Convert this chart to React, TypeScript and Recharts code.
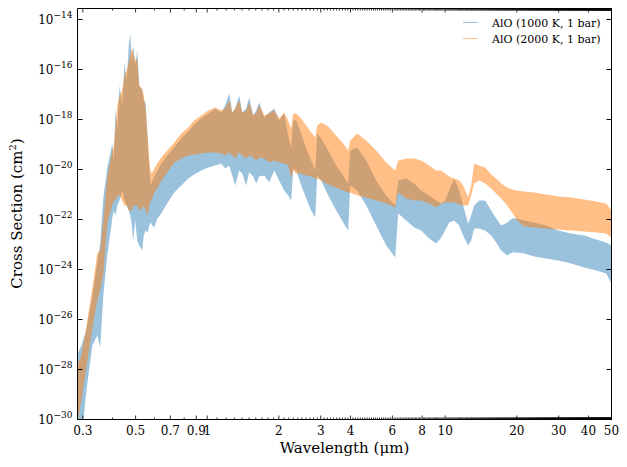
import { Area, ComposedChart, XAxis, YAxis } from "recharts";

const FONT = "'DejaVu Serif', serif";

// wavelength grid in µm
const wavelength = [
  0.286, 0.296, 0.31, 0.329, 0.345, 0.355, 0.366, 0.38, 0.399, 0.405,
  0.412, 0.419, 0.428, 0.439, 0.449, 0.459, 0.468, 0.475, 0.482, 0.489,
  0.498, 0.508, 0.518, 0.533, 0.541, 0.551, 0.562, 0.571, 0.579, 0.588,
  0.599, 0.617, 0.641, 0.679, 0.727, 0.778, 0.832, 0.882, 0.944, 1.01,
  1.08, 1.145, 1.19, 1.237, 1.274, 1.311, 1.363, 1.403, 1.458, 1.501,
  1.561, 1.607, 1.654, 1.736, 1.822, 1.912, 2.006, 2.106, 2.189, 2.254,
  2.298, 2.366, 2.483, 2.606, 2.735, 2.843, 2.899, 3.013, 3.225, 3.483,
  3.728, 3.912, 3.989, 4.268, 4.658, 5.13, 5.65, 6.166, 6.347, 6.857,
  7.407, 7.928, 8.565, 9.168, 9.621, 10.0, 10.39, 10.91, 11.45, 11.9,
  12.49, 12.86, 13.24, 13.9, 14.73, 15.61, 16.38, 17.19, 18.22, 19.12,
  20.07, 21.47, 23.66, 26.58, 29.85, 33.83, 38.37, 43.11, 47.49, 50.0,
];

// log10 of the cross section (cm^2): lower and upper envelope of each spectrum
const low1000 = [
  -30.84, -30.84, -28.92, -27.04, -26.64, -27.12, -25.04, -23.44, -21.96, -21.64,
  -21.84, -21.44, -21.24, -20.84, -21.24, -21.44, -21.64, -21.84, -22.24, -22.84,
  -22.04, -22.84, -23.04, -23.24, -22.64, -22.44, -22.52, -22.24, -22.12, -22.24,
  -22.32, -21.96, -21.76, -21.36, -20.92, -20.64, -20.36, -20.2, -20.04, -19.92,
  -19.84, -19.76, -19.96, -19.84, -20.24, -20.64, -20.04, -20.16, -20.64, -20.12,
  -20.28, -20.56, -20.28, -20.24, -20.52, -20.04, -20.44, -20.84, -21.04, -21.24,
  -19.96, -20.04, -20.64, -21.16, -21.64, -21.92, -20.24, -20.44, -21.04, -21.64,
  -22.12, -22.44, -20.64, -20.84, -21.44, -22.24, -23.04, -23.52, -21.76, -22.04,
  -22.32, -22.44, -22.76, -22.96, -22.72, -22.44, -22.12, -22.04, -22.24, -22.64,
  -23.04, -22.84, -22.36, -22.36, -22.44, -22.64, -22.92, -23.24, -23.44, -23.32,
  -23.32, -23.36, -23.48, -23.56, -23.64, -23.76, -23.92, -24.04, -24.16, -24.56,
];
const high1000 = [
  -27.36, -27.04, -26.44, -25.04, -23.72, -22.96, -21.12, -19.96, -18.96, -19.64,
  -17.56, -18.44, -16.64, -17.44, -15.76, -16.44, -15.04, -14.56, -15.64, -15.04,
  -15.84, -15.24, -16.64, -16.84, -17.24, -17.36, -18.84, -19.96, -20.64, -20.44,
  -20.28, -20.04, -19.76, -19.44, -19.12, -18.76, -18.48, -18.2, -17.96, -17.76,
  -17.56, -17.72, -17.44, -16.96, -17.72, -17.56, -17.04, -17.72, -17.56, -17.12,
  -17.84, -17.64, -17.32, -17.92, -17.72, -17.56, -18.04, -17.76, -18.64, -19.12,
  -18.04, -18.04, -18.56, -19.16, -19.64, -20.04, -18.56, -18.76, -19.24, -19.84,
  -20.24, -20.56, -19.24, -19.12, -19.64, -20.44, -21.04, -21.44, -20.44, -20.36,
  -20.56, -20.84, -21.04, -21.24, -21.36, -21.24, -20.84, -20.36, -20.84, -21.44,
  -22.16, -21.84, -21.44, -21.24, -21.24, -21.64, -21.96, -22.24, -22.12, -21.96,
  -21.96, -22.04, -22.12, -22.24, -22.44, -22.56, -22.64, -22.8, -22.92, -23.04,
];
const low2000 = [
  -30.04, -29.24, -27.96, -26.36, -25.24, -24.84, -24.16, -22.12, -21.44, -21.24,
  -21.24, -21.04, -21.04, -21.24, -21.44, -21.44, -21.64, -21.64, -21.64, -21.44,
  -21.44, -21.44, -21.64, -21.56, -21.44, -21.64, -21.84, -21.44, -21.24, -21.16,
  -20.92, -20.76, -20.44, -20.12, -19.72, -19.56, -19.44, -19.4, -19.36, -19.32,
  -19.32, -19.36, -19.44, -19.32, -19.44, -19.56, -19.32, -19.44, -19.56, -19.44,
  -19.52, -19.64, -19.52, -19.56, -19.72, -19.64, -19.72, -19.76, -19.84, -20.32,
  -20.04, -20.16, -20.16, -20.24, -20.28, -20.36, -20.36, -20.44, -20.6, -20.72,
  -20.84, -20.92, -20.92, -21.04, -21.12, -21.24, -21.36, -21.52, -20.92, -21.16,
  -21.24, -21.24, -21.36, -21.52, -21.36, -21.32, -21.32, -21.32, -21.4, -21.44,
  -21.44, -21.04, -20.56, -20.44, -20.56, -20.76, -20.96, -21.16, -21.44, -21.72,
  -22.04, -22.28, -22.32, -22.36, -22.4, -22.44, -22.48, -22.52, -22.56, -22.72,
];
const high2000 = [
  -27.76, -27.44, -26.32, -24.76, -23.36, -23.24, -22.04, -20.32, -19.24, -19.04,
  -18.24, -17.44, -17.04, -16.84, -16.24, -16.04, -15.72, -15.44, -15.16, -15.32,
  -15.64, -15.56, -16.64, -16.76, -17.04, -17.56, -18.64, -19.64, -20.12, -20.12,
  -19.96, -19.76, -19.52, -19.24, -18.92, -18.56, -18.32, -18.04, -17.84, -17.64,
  -17.52, -17.64, -17.56, -17.24, -17.72, -17.56, -17.24, -17.72, -17.64, -17.32,
  -17.84, -17.72, -17.44, -17.84, -17.76, -17.64, -17.96, -17.72, -18.04, -18.36,
  -17.76, -17.76, -17.96, -18.24, -18.52, -18.72, -18.24, -18.12, -18.28, -18.64,
  -18.96, -19.24, -18.84, -18.56, -18.84, -19.24, -19.72, -20.04, -19.64, -19.56,
  -19.56, -19.64, -19.84, -20.04, -20.04, -20.16, -20.28, -20.36, -20.44, -20.64,
  -21.12, -20.64, -19.76, -19.84, -19.92, -20.2, -20.36, -20.56, -20.72, -20.8,
  -20.84, -20.88, -20.92, -21.0, -21.08, -21.12, -21.2, -21.28, -21.36, -21.64,
];

const seriesNames = ["AlO (1000 K, 1 bar)", "AlO (2000 K, 1 bar)"];

const xMajorTicks = [0.3, 0.5, 0.7, 0.9, 1, 2, 3, 4, 6, 8, 10, 20, 30, 40, 50];
const xTickLabels = ["0.3", "0.5", "0.7", "0.9", "1", "2", "3", "4", "6", "8", "10", "20", "30", "40", "50"];
// minor ticks every 0.1 µm across the whole range
const xMinorTicks = Array.from({ length: 498 }, (_, i) => (i + 3) / 10);
const xTicks = Array.from(new Set([...xMinorTicks, ...xMajorTicks])).sort((a, b) => a - b);

const yTickExponents = [-30, -28, -26, -24, -22, -20, -18, -16, -14];
const yTicks = yTickExponents.map((e) => Math.pow(10, e));

const X_DOMAIN: [number, number] = [0.285, 50];
const Y_DOMAIN: [number, number] = [1e-30, 2.75e-14];

const data = wavelength.map((w, i) => ({
  wavelength: w,
  cold: [Math.pow(10, low1000[i]), Math.pow(10, high1000[i])],
  hot: [Math.pow(10, low2000[i]), Math.pow(10, high2000[i])],
}));

function BottomTick({ x, y, payload }: any) {
  const idx = xMajorTicks.indexOf(payload.value);
  const len = idx >= 0 ? 4 : 2;
  return (
    <g>
      <line x1={x} x2={x} y1={y} y2={y - len} stroke="#000" strokeWidth={0.8} />
      {idx >= 0 && (
        <text x={x} y={y + 15} textAnchor="middle" fontSize={12} fontFamily={FONT} fill="#000">
          {xTickLabels[idx]}
        </text>
      )}
    </g>
  );
}

function TopTick({ x, y, payload }: any) {
  const len = xMajorTicks.includes(payload.value) ? 4 : 2;
  return <line x1={x} x2={x} y1={y} y2={y + len} stroke="#000" strokeWidth={0.8} />;
}

function LeftTick({ x, y, payload }: any) {
  const exp = Math.round(Math.log10(payload.value));
  return (
    <g>
      <line x1={x} x2={x + 5} y1={y} y2={y} stroke="#000" />
      <text x={x - 5} y={y + 4.5} textAnchor="end" fontSize={12} fontFamily={FONT} fill="#000">
        10
        <tspan dy={-6} fontSize={9}>{`\u2212${-exp}`}</tspan>
      </text>
    </g>
  );
}

function RightTick({ x, y }: any) {
  return <line x1={x} x2={x - 5} y1={y} y2={y} stroke="#000" />;
}

export default function App() {
  return (
    <div style={{ position: "absolute", left: 0, top: 0, width: 627, height: 467, background: "#fff" }}>
      <ComposedChart
        width={627}
        height={467}
        data={data}
        margin={{ top: 7.5, right: 14.5, bottom: 46.5, left: 76.5 }}
      >
        <XAxis
          dataKey="wavelength"
          type="number"
          scale="log"
          domain={X_DOMAIN}
          allowDataOverflow
          ticks={xTicks}
          interval={0}
          height={1}
          tickSize={0}
          tickMargin={0}
          tickLine={false}
          tick={BottomTick}
          axisLine={{ stroke: "#000", strokeWidth: 1 }}
        />
        <XAxis
          xAxisId="top"
          orientation="top"
          dataKey="wavelength"
          type="number"
          scale="log"
          domain={X_DOMAIN}
          allowDataOverflow
          ticks={xTicks}
          interval={0}
          height={1}
          tickSize={0}
          tickMargin={0}
          tickLine={false}
          tick={TopTick}
          axisLine={{ stroke: "#000", strokeWidth: 1 }}
        />
        <YAxis
          type="number"
          scale="log"
          domain={Y_DOMAIN}
          allowDataOverflow
          ticks={yTicks}
          interval={0}
          width={1}
          tickSize={0}
          tickMargin={0}
          tickLine={false}
          tick={LeftTick}
          axisLine={{ stroke: "#000", strokeWidth: 1 }}
        />
        <YAxis
          yAxisId="right"
          orientation="right"
          type="number"
          scale="log"
          domain={Y_DOMAIN}
          allowDataOverflow
          ticks={yTicks}
          interval={0}
          width={1}
          tickSize={0}
          tickMargin={0}
          tickLine={false}
          tick={RightTick}
          axisLine={{ stroke: "#000", strokeWidth: 1 }}
        />
        <Area
          dataKey="cold"
          name={seriesNames[0]}
          type="linear"
          stroke="none"
          fill="#1f77b4"
          fillOpacity={0.45}
          dot={false}
          activeDot={false}
          isAnimationActive={false}
        />
        <Area
          dataKey="hot"
          name={seriesNames[1]}
          type="linear"
          stroke="none"
          fill="#ff7f0e"
          fillOpacity={0.5}
          dot={false}
          activeDot={false}
          isAnimationActive={false}
        />
      </ComposedChart>

      {/* axis titles and legend */}
      <svg width={627} height={467} style={{ position: "absolute", left: 0, top: 0, pointerEvents: "none" }}>
        <text x={344.5} y={453} textAnchor="middle" fontSize={15} fontFamily={FONT} fill="#000">
          Wavelength (μm)
        </text>
        <text
          transform="translate(22,213.5) rotate(-90)"
          textAnchor="middle"
          fontSize={15}
          fontFamily={FONT}
          fill="#000"
        >
          Cross Section (cm
          <tspan dy={-6} fontSize={10}>2</tspan>
          <tspan dy={6}>)</tspan>
        </text>
        <line x1={463} x2={478} y1={22.5} y2={22.5} stroke="#1f77b4" strokeOpacity={0.45} />
        <text x={492} y={26.5} fontSize={11} fontFamily={FONT} fill="#000">
          {seriesNames[0]}
        </text>
        <line x1={463} x2={478} y1={38.5} y2={38.5} stroke="#ff7f0e" strokeOpacity={0.5} />
        <text x={492} y={42.5} fontSize={11} fontFamily={FONT} fill="#000">
          {seriesNames[1]}
        </text>
      </svg>
    </div>
  );
}
